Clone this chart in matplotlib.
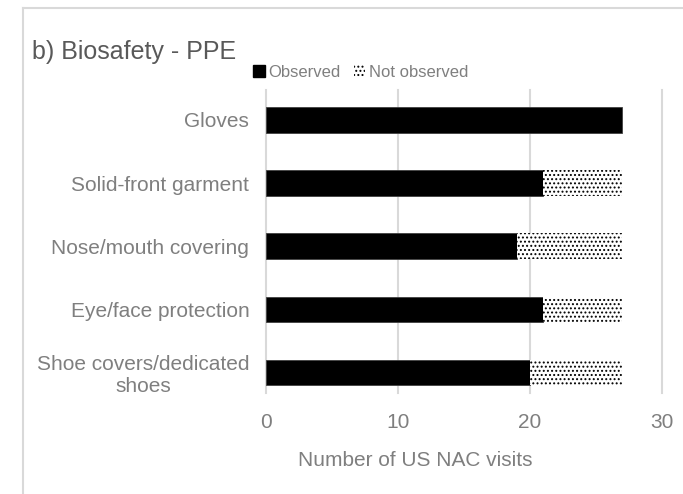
import matplotlib
matplotlib.use('Agg')
import numpy as np
from matplotlib import pyplot as plt
from matplotlib.lines import Line2D
from matplotlib.patches import Patch

plt.rcParams['font.family'] = ['Liberation Sans', 'DejaVu Sans']
plt.rcParams['hatch.linewidth'] = 0.9

# data (top to bottom as shown)
categories = ['Gloves', 'Solid-front garment', 'Nose/mouth covering',
              'Eye/face protection', 'Shoe covers/dedicated\nshoes']
observed = [27, 21, 19, 21, 20]
not_observed = [0, 6, 8, 6, 7]
xticks = [0, 10, 20, 30]

TXT = '#7f7f7f'
GRID = '#d9d9d9'

fig = plt.figure(figsize=(6.83, 4.94), dpi=100)
ax = fig.add_axes([266/683, 0.204, 396/683, 0.614])

y = np.arange(len(categories))[::-1]
h = 0.4
ax.barh(y, observed, height=h, color='black', edgecolor='#404040', linewidth=0.6, zorder=3)
ax.barh(y, not_observed, left=observed, height=h, color='white',
        edgecolor='black', hatch='....', linewidth=0, zorder=3)

ax.set_xlim(0, 30)
ax.set_ylim(-0.333, 4.476)
ax.set_xticks(xticks)
ax.set_yticks(y)
ax.set_yticklabels(categories, color=TXT, fontsize=15)
ax.tick_params(axis='x', colors=TXT, labelsize=15, length=0, pad=14)
ax.tick_params(axis='y', length=0, pad=12)
for lbl in ax.get_yticklabels():
    lbl.set_multialignment('center')
ax.xaxis.grid(True, color=GRID, linewidth=1.5, zorder=0, clip_on=False)
for s in ax.spines.values():
    s.set_visible(False)
ax.set_xlabel('Number of US NAC visits', color=TXT, fontsize=15, labelpad=12)
ax.xaxis.set_label_coords(0.376, -0.19)

# frame (top and left border visible)
fig.add_artist(Line2D([23/683, 1], [1 - 8/494, 1 - 8/494], color=GRID, lw=1.5))
fig.add_artist(Line2D([23/683, 23/683], [0, 1 - 8/494], color=GRID, lw=1.5))

fig.text(32/683, 1 - 52/494, 'b) Biosafety - PPE', color='#595959', fontsize=18, va='center')

handles = [Patch(facecolor='black', edgecolor='black'),
           Patch(facecolor='white', edgecolor='black', hatch='....', linewidth=0)]
fig.legend(handles, ['Observed', 'Not observed'], loc='center left',
           bbox_to_anchor=(238/683, 1 - 72/494), ncol=2, frameon=False,
           fontsize=12, labelcolor=TXT, handlelength=0.7, handleheight=0.7,
           handletextpad=0.2, columnspacing=0.8)

fig.savefig('out.png', dpi=100)
